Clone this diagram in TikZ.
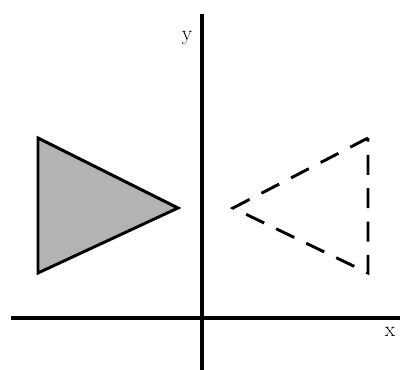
\documentclass[tikz,border=0pt]{standalone}
\begin{document}
\begin{tikzpicture}[x=0.75pt,y=-0.75pt,
  axis/.style={line width=2.6pt},
  tri/.style={line width=2.2pt,line join=miter},
  dtri/.style={line width=2.2pt,dash pattern=on 15pt off 10pt},
  lbl/.style={font=\fontsize{16}{16}\selectfont,inner sep=0pt}]
\useasboundingbox (0,0) rectangle (400,370);
\coordinate (xl) at (11,318);
\coordinate (xr) at (400,318);
\coordinate (yt) at (202,14);
\coordinate (yb) at (202,370);
\draw[axis] (xl) -- (xr);
\draw[axis] (yt) -- (yb);
\node[lbl,anchor=base] (ylab) at (187,41) {y};
\node[lbl,anchor=base] (xlab) at (390,337) {x};
\coordinate (a1) at (38,138);
\coordinate (a2) at (38,273);
\coordinate (a3) at (178,208);
\draw[tri,fill={rgb,255:red,179;green,179;blue,179}] (a1) -- (a3) -- (a2) -- cycle;
\coordinate (b1) at (368,138);
\coordinate (b2) at (368,273);
\coordinate (b3) at (233,208);
\draw[dtri] (b1) -- (b3) -- (b2) -- cycle;
\end{tikzpicture}
\end{document}
